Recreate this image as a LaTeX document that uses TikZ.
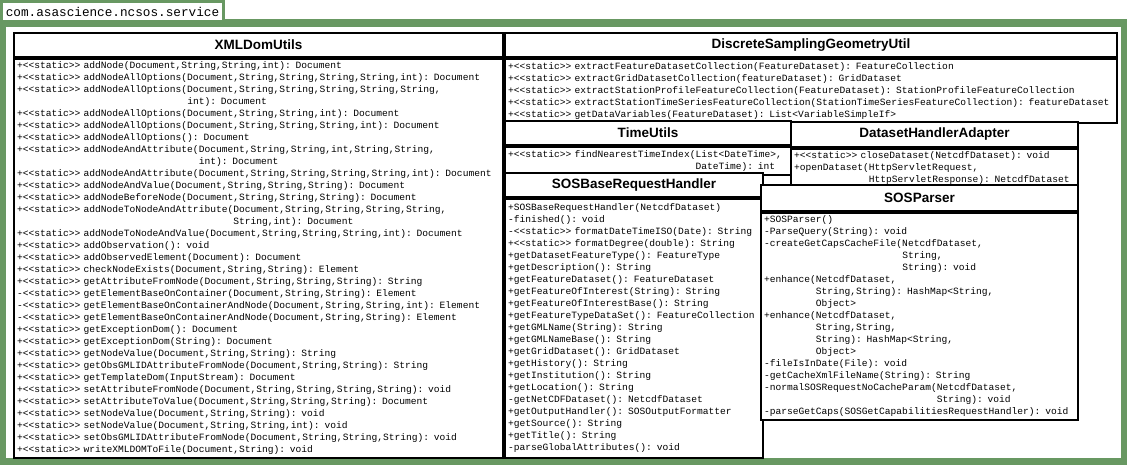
\documentclass[tikz,border=0pt]{standalone}
\usepackage{fontspec}
\setmainfont{Liberation Sans}
\setmonofont{Liberation Mono}
\usepackage{tikz}
\definecolor{pkggreen}{RGB}{104,152,98}

\tikzset{
  pkgtab/.style={draw=pkggreen, line width=3pt, fill=white, anchor=north west,
    font=\ttfamily\fontsize{12.7}{14}\selectfont, minimum width=222pt, minimum height=20pt, inner sep=1pt},
  classtitle/.style={draw, line width=2pt, fill=white, anchor=north west, inner sep=0pt,
    font=\bfseries\fontsize{13.5}{15}\selectfont},
  classbody/.style={draw, line width=2pt, fill=white, anchor=north west, align=left,
    inner sep=0pt, inner xsep=3pt, font=\ttfamily\fontsize{9.6}{12}\selectfont}
}

\begin{document}
\begin{tikzpicture}[x=1pt,y=-1pt]
\useasboundingbox (0,0) rectangle (1127,465);

% Drawing package frame
\fill[pkggreen] (0,19) rectangle (1127,465);
\fill[white] (6,27) rectangle (1121,458);
\node[pkgtab] (pkg) at (0,0) {com.asascience.ncsos.service};

% Drawing XMLDomUtils
\node[classtitle, minimum width=489pt, minimum height=24pt] (xmlT) at (13,32) {XMLDomUtils};
\node[classbody, text width=483pt, minimum height=399pt] (xmlB) at (xmlT.south west) {%
+<<static>> addNode(Document,String,String,int): Document\\
+<<static>> addNodeAllOptions(Document,String,String,String,String,int): Document\\
+<<static>> addNodeAllOptions(Document,String,String,String,String,String,\\
\hphantom{+<<static>> addNodeAllOptions(}int): Document\\
+<<static>> addNodeAllOptions(Document,String,String,int): Document\\
+<<static>> addNodeAllOptions(Document,String,String,String,int): Document\\
+<<static>> addNodeAllOptions(): Document\\
+<<static>> addNodeAndAttribute(Document,String,String,int,String,String,\\
\hphantom{+<<static>> addNodeAndAttribute(}int): Document\\
+<<static>> addNodeAndAttribute(Document,String,String,String,String,int): Document\\
+<<static>> addNodeAndValue(Document,String,String,String): Document\\
+<<static>> addNodeBeforeNode(Document,String,String,String): Document\\
+<<static>> addNodeToNodeAndAttribute(Document,String,String,String,String,\\
\hphantom{+<<static>> addNodeToNodeAndAttribute(}String,int): Document\\
+<<static>> addNodeToNodeAndValue(Document,String,String,String,int): Document\\
+<<static>> addObservation(): void\\
+<<static>> addObservedElement(Document): Document\\
+<<static>> checkNodeExists(Document,String,String): Element\\
+<<static>> getAttributeFromNode(Document,String,String,String): String\\
-<<static>> getElementBaseOnContainer(Document,String,String): Element\\
-<<static>> getElementBaseOnContainerAndNode(Document,String,String,int): Element\\
-<<static>> getElementBaseOnContainerAndNode(Document,String,String): Element\\
+<<static>> getExceptionDom(): Document\\
+<<static>> getExceptionDom(String): Document\\
+<<static>> getNodeValue(Document,String,String): String\\
+<<static>> getObsGMLIDAttributeFromNode(Document,String,String): String\\
+<<static>> getTemplateDom(InputStream): Document\\
+<<static>> setAttributeFromNode(Document,String,String,String,String): void\\
+<<static>> setAttributeToValue(Document,String,String,String): Document\\
+<<static>> setNodeValue(Document,String,String): void\\
+<<static>> setNodeValue(Document,String,String,int): void\\
+<<static>> setObsGMLIDAttributeFromNode(Document,String,String,String): void\\
+<<static>> writeXMLDOMToFile(Document,String): void};

% Drawing DiscreteSamplingGeometryUtil
\node[classtitle, minimum width=612pt, minimum height=24pt] (dsgT) at (504,32) {DiscreteSamplingGeometryUtil};
\node[classbody, text width=606pt, minimum height=64pt] (dsgB) at (dsgT.south west) {%
+<<static>> extractFeatureDatasetCollection(FeatureDataset): FeatureCollection\\
+<<static>> extractGridDatasetCollection(featureDataset): GridDataset\\
+<<static>> extractStationProfileFeatureCollection(FeatureDataset): StationProfileFeatureCollection\\
+<<static>> extractStationTimeSeriesFeatureCollection(StationTimeSeriesFeatureCollection): featureDataset\\
+<<static>> getDataVariables(FeatureDataset): List<VariableSimpleIf>};

% Drawing TimeUtils
\node[classtitle, minimum width=286pt, minimum height=24pt] (timeT) at (504,120) {TimeUtils};
\node[classbody, text width=280pt, minimum height=28pt] (timeB) at (timeT.south west) {%
+<<static>> findNearestTimeIndex(List<DateTime>,\\
\hphantom{+<<static>> findNearestTimeIndex(}DateTime): int};

% Drawing DatasetHandlerAdapter
\node[classtitle, minimum width=287pt, minimum height=25pt] (dhaT) at (790,121) {DatasetHandlerAdapter};
\node[classbody, text width=281pt, minimum height=38pt] (dhaB) at (dhaT.south west) {%
+<<static>> closeDataset(NetcdfDataset): void\\
+openDataset(HttpServletRequest,\\
\hphantom{+openDataset(}HttpServletResponse): NetcdfDataset};

% Drawing SOSBaseRequestHandler
\node[classtitle, minimum width=258pt, minimum height=24pt] (baseT) at (504,172) {SOSBaseRequestHandler};
\node[classbody, text width=252pt, minimum height=259pt] (baseB) at (baseT.south west) {%
+SOSBaseRequestHandler(NetcdfDataset)\\
-finished(): void\\
-<<static>> formatDateTimeISO(Date): String\\
+<<static>> formatDegree(double): String\\
+getDatasetFeatureType(): FeatureType\\
+getDescription(): String\\
+getFeatureDataset(): FeatureDataset\\
+getFeatureOfInterest(String): String\\
+getFeatureOfInterestBase(): String\\
+getFeatureTypeDataSet(): FeatureCollection\\
+getGMLName(String): String\\
+getGMLNameBase(): String\\
+getGridDataset(): GridDataset\\
+getHistory(): String\\
+getInstitution(): String\\
+getLocation(): String\\
-getNetCDFDataset(): NetcdfDataset\\
+getOutputHandler(): SOSOutputFormatter\\
+getSource(): String\\
+getTitle(): String\\
-parseGlobalAttributes(): void};

% Drawing SOSParser
\node[classtitle, minimum width=317pt, minimum height=26pt] (parserT) at (760,184) {SOSParser};
\node[classbody, text width=311pt, minimum height=207pt] (parserB) at (parserT.south west) {%
+SOSParser()\\
-ParseQuery(String): void\\
-createGetCapsCacheFile(NetcdfDataset,\\
\hphantom{-createGetCapsCacheFile(}String,\\
\hphantom{-createGetCapsCacheFile(}String): void\\
+enhance(NetcdfDataset,\\
\hphantom{+enhance(}String,String): HashMap<String,\\
\hphantom{+enhance(}Object>\\
+enhance(NetcdfDataset,\\
\hphantom{+enhance(}String,String,\\
\hphantom{+enhance(}String): HashMap<String,\\
\hphantom{+enhance(}Object>\\
-fileIsInDate(File): void\\
-getCacheXmlFileName(String): String\\
-normalSOSRequestNoCacheParam(NetcdfDataset,\\
\hphantom{-normalSOSRequestNoCacheParam(}String): void\\
-parseGetCaps(SOSGetCapabilitiesRequestHandler): void};

\end{tikzpicture}
\end{document}
